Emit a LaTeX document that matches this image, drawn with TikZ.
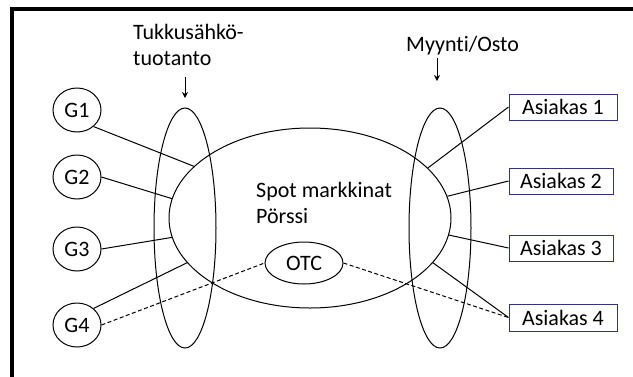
\documentclass[tikz,border=0pt]{standalone}
\usepackage{fontspec}
\setmainfont{Carlito}[Ligatures=NoCommon]
\usetikzlibrary{shapes.geometric,arrows.meta}
\definecolor{boxblue}{RGB}{50,50,130}
\begin{document}
\begin{tikzpicture}[x=1pt,y=-1pt,
  every node/.style={font=\fontsize{22}{26}\selectfont, inner sep=0pt},
  gnode/.style={draw, ellipse, minimum width=48pt, minimum height=44pt, line width=1pt},
  bigell/.style={draw, ellipse, line width=1pt},
  abox/.style={draw=boxblue, line width=1pt, minimum height=26pt},
  lbl/.style={anchor=base west},
  conn/.style={line width=1pt},
  dconn/.style={line width=1pt, dash pattern=on 4pt off 2.5pt},
  arr/.style={line width=1pt, -{Stealth[length=6pt,width=6pt]}}]
\useasboundingbox (0,0) rectangle (633,376);
% frame
\draw[line width=4pt] (12,378) -- (12,9) -- (635,9);
% G nodes
\node[gnode] (G1) at (77,110) {G1};
\node[gnode] (G2) at (77,177) {G2};
\node[gnode] (G3) at (77,249) {G3};
\node[gnode] (G4) at (77,325) {G4};
% ellipses
\node[bigell, minimum width=62pt, minimum height=240pt] (prod) at (185,228) {};
\node[bigell, minimum width=62pt, minimum height=240pt] (trade) at (440,228) {};
\node[bigell, minimum width=282pt, minimum height=180pt] (spot) at (310,218) {};
\node[bigell, minimum width=78pt, minimum height=42pt] (otc) at (304,263) {OTC};
% customer boxes
\node[abox, minimum width=108pt] (A1) at (563,107) {Asiakas 1};
\node[abox, minimum width=104pt] (A2) at (561,181) {Asiakas 2};
\node[abox, minimum width=104pt] (A3) at (561,248) {Asiakas 3};
\node[abox, minimum width=108pt, minimum height=27pt] (A4) at (563,317.5) {Asiakas 4};
% texts
\node[lbl] (spot1) at (256,197) {Spot markkinat};
\node[lbl] (spot2) at (256,223) {Pörssi};
\node[lbl] (prod1) at (133,39) {Tukkusähkö-};
\node[lbl] (prod2) at (133,65) {tuotanto};
\node[lbl] (trd) at (406,51) {Myynti/Osto};
% arrows
\coordinate (pa1) at (185,77);
\coordinate (pa2) at (185,98);
\coordinate (ta1) at (437,58);
\coordinate (ta2) at (437,81);
\draw[arr] (pa1) -- (pa2);
\draw[arr] (ta1) -- (ta2);
% connectors
\draw[conn] (G1.-45) -- (spot.156);
\draw[conn] (G2.east) -- (spot.172.6);
\draw[conn] (G3.east) -- (spot.188.7);
\draw[conn] (G4.45) -- (spot.200.5);
\draw[dconn] (G4.east) -- (otc.west);
\draw[dconn] (otc.east) -- (A4.west);
\draw[conn] (spot.340.3) -- (A4.west);
\draw[conn] (spot.353) -- (A3.west);
\draw[conn] (spot.9.6) -- (A2.west);
\draw[conn] (spot.23.7) -- (A1.west);
\end{tikzpicture}
\end{document}
